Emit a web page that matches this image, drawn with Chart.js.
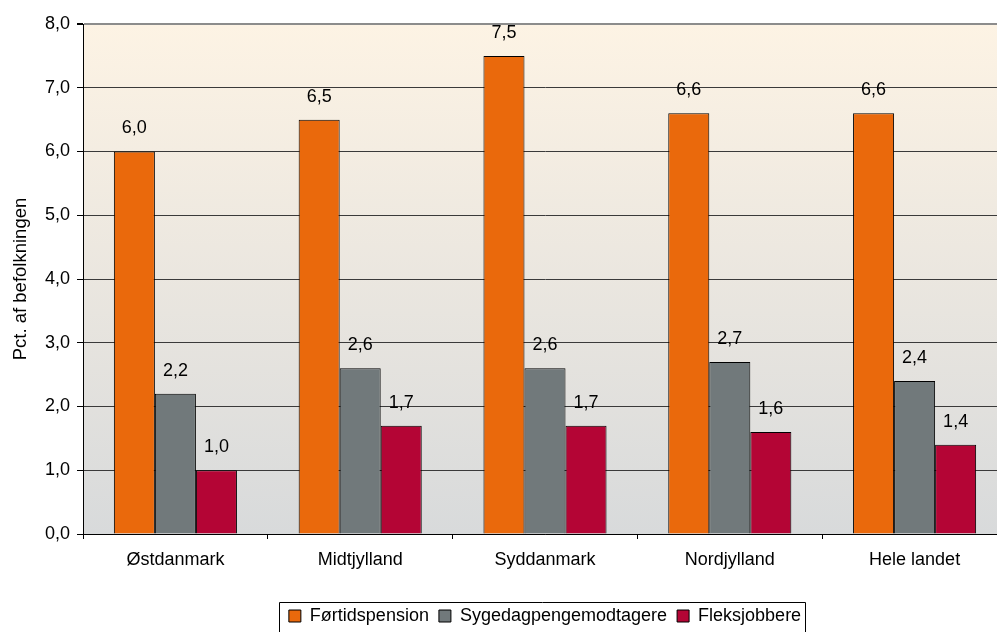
<!DOCTYPE html>
<html><head><meta charset="utf-8">
<script src="https://cdn.jsdelivr.net/npm/chart.js@4"></script>
<style>html,body{margin:0;padding:0;overflow:hidden;background:#fff}#wrap{width:1010px;height:632px;position:relative}</style>
</head><body><div id="wrap"><canvas id="c"></canvas></div>
<script>
const categories = ['Østdanmark','Midtjylland','Syddanmark','Nordjylland','Hele landet'];
const seriesNames = ['Førtidspension','Sygedagpengemodtagere','Fleksjobbere'];
const fortidspension = [6.0, 6.5, 7.5, 6.6, 6.6];
const sygedagpenge = [2.2, 2.6, 2.6, 2.7, 2.4];
const fleksjobbere = [1.0, 1.7, 1.7, 1.6, 1.4];
const yMin = 0, yMax = 8, yStep = 1;
const yTitle = 'Pct. af befolkningen';

const FONT = "'Liberation Sans', Arial, sans-serif";
const FS = 18;
const fmt = v => v.toFixed(1).replace('.', ',');

const bgPlugin = {
  id: 'bg',
  beforeDraw(chart) {
    const {ctx, chartArea: a} = chart;
    const g = ctx.createLinearGradient(0, a.top, 0, a.bottom);
    g.addColorStop(0, '#FDF3E4');
    g.addColorStop(1, '#D8DADB');
    ctx.save();
    ctx.fillStyle = g;
    ctx.fillRect(a.left, a.top, a.right - a.left, a.bottom - a.top);
    ctx.restore();
  }
};

const labelPlugin = {
  id: 'vals',
  afterDatasetsDraw(chart) {
    const ctx = chart.ctx;
    ctx.save();
    ctx.font = FS + 'px ' + FONT;
    ctx.fillStyle = '#000';
    ctx.textAlign = 'center';
    ctx.textBaseline = 'middle';
    chart.data.datasets.forEach((ds, i) => {
      chart.getDatasetMeta(i).data.forEach((bar, j) => {
        ctx.fillText(fmt(ds.data[j]), bar.x, bar.y - 23);
      });
    });
    ctx.restore();
  }
};

const legendPlugin = {
  id: 'legendShift',
  afterLayout(chart) {
    const lg = chart.legend;
    const a = chart.chartArea;
    const dx = (a.left + a.right) / 2 - (lg.left + lg.right) / 2;
    lg.left += dx; lg.right += dx;
    lg.top += 3; lg.bottom += 3;
  },
  afterDraw(chart) {
    const lg = chart.legend;
    const ctx = chart.ctx;
    const w = (lg.lineWidths && lg.lineWidths[0]) || 0;
    const pad = lg.options.labels.padding;
    const start = lg.left + pad + ((lg.right - lg.left - pad * 2) - w) / 2;
    const l = Math.round(start - 5) + 0.5;
    const r = Math.round(start + w - pad + 9) + 0.5;
    const t = Math.round(lg.top + pad - 5) + 0.5;
    ctx.save();
    ctx.strokeStyle = '#000';
    ctx.lineWidth = 1;
    ctx.beginPath();
    ctx.moveTo(l, 640);
    ctx.lineTo(l, t);
    ctx.lineTo(r, t);
    ctx.lineTo(r, 640);
    ctx.stroke();
    ctx.restore();
  }
};

new Chart(document.getElementById('c'), {
  type: 'bar',
  data: {
    labels: categories,
    datasets: [
      {label: seriesNames[0], data: fortidspension, backgroundColor: '#EA690C', borderColor: '#000', borderWidth: 1},
      {label: seriesNames[1], data: sygedagpenge, backgroundColor: '#71797B', borderColor: '#000', borderWidth: 1},
      {label: seriesNames[2], data: fleksjobbere, backgroundColor: '#B40535', borderColor: '#000', borderWidth: 1}
    ]
  },
  options: {
    responsive: true,
    maintainAspectRatio: false,
    animation: false,
    devicePixelRatio: 1,
    layout: {padding: {top: 24, right: 3, bottom: 0, left: 0}},
    datasets: {bar: {barPercentage: 1, categoryPercentage: 0.666}},
    plugins: {
      legend: {
        position: 'bottom',
        labels: {
          font: {size: FS, family: FONT},
          color: '#000',
          boxWidth: 12, boxHeight: 12, padding: 10,
          generateLabels(chart) {
            return chart.data.datasets.map((ds, i) => ({
              text: ds.label, fillStyle: ds.backgroundColor, strokeStyle: '#000',
              lineWidth: 1, hidden: false, datasetIndex: i, fontColor: '#000'
            }));
          }
        }
      },
      tooltip: {enabled: false}
    },
    scales: {
      x: {
        afterFit(s) { s.height = 60; },
        grid: {display: true, drawOnChartArea: false, drawTicks: true, tickLength: 5, color: '#000', offset: true},
        border: {display: true, color: '#000', width: 1},
        ticks: {font: {size: FS, family: FONT}, color: '#000', padding: 10, maxRotation: 0}
      },
      y: {
        min: yMin, max: yMax,
        afterFit(s) { s.width = 83; },
        ticks: {stepSize: yStep, font: {size: FS, family: FONT}, color: '#000', padding: 7, callback: v => fmt(v)},
        grid: {
          color: c => (c.tick && c.tick.value === yMax) ? '#8C8C8C' : '#3A3A3A',
          lineWidth: c => (c.tick && c.tick.value === yMax) ? 2 : 1,
          tickColor: '#000', tickLength: 6, drawTicks: true
        },
        border: {display: true, color: '#000', width: 1},
        title: {display: true, text: yTitle, font: {size: 18.5, family: FONT}, color: '#000', padding: {top: 10, bottom: 0}}
      }
    }
  },
  plugins: [bgPlugin, labelPlugin, legendPlugin]
});
</script></body></html>
